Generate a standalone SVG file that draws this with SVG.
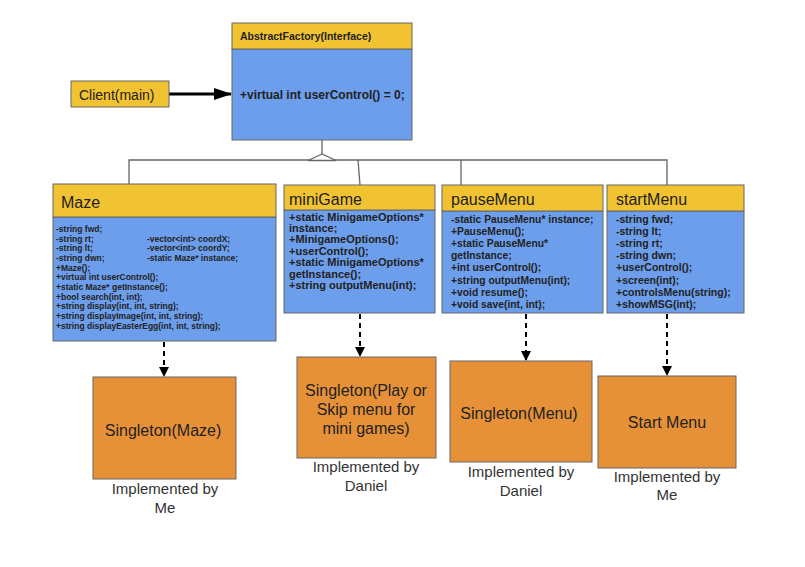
<svg xmlns="http://www.w3.org/2000/svg" width="805" height="567" viewBox="0 0 805 567">
<defs>
<style>
.hdr{fill:#f1c232;stroke:#666;stroke-width:1}
.body{fill:#6d9eeb;stroke:#666;stroke-width:1}
.org{fill:#e69138;stroke:#666;stroke-width:1}
.t{font-family:"Liberation Sans",Arial,sans-serif;fill:#222}
.b{font-weight:bold}
.inh{stroke:#666;stroke-width:1.3;fill:none}
.dash{stroke:#000;stroke-width:2;stroke-dasharray:5 4;fill:none}
.note{font-family:"Liberation Sans",Arial,sans-serif;fill:#333;font-size:15px;text-anchor:middle}
.sg{font-family:"Liberation Sans",Arial,sans-serif;fill:#222;font-size:16px;text-anchor:middle}
</style>
<marker id="ah" markerWidth="10" markerHeight="10" refX="9" refY="5" orient="auto" markerUnits="userSpaceOnUse">
<path d="M0,0 L10,5 L0,10 z" fill="#000"/>
</marker>
<marker id="ah2" markerWidth="18" markerHeight="14" refX="17" refY="7" orient="auto" markerUnits="userSpaceOnUse">
<path d="M0,1 L18,7 L0,13 z" fill="#000"/>
</marker>
</defs>
<rect width="805" height="567" fill="#fff"/>

<g id="connectors">
<line x1="169" y1="94" x2="231" y2="94" stroke="#000" stroke-width="3" marker-end="url(#ah2)"/>
<line class="inh" x1="322" y1="140" x2="322" y2="154"/>
<polyline class="inh" points="129,184 129,160 667,160 667,185"/>
<line class="inh" x1="358" y1="160" x2="360" y2="185"/>
<line class="inh" x1="461" y1="160" x2="461" y2="185"/>
<polygon points="322,154 308,160.5 336,160.5" fill="#fff" stroke="#666" stroke-width="1.3"/>
<line class="dash" x1="164" y1="342" x2="164" y2="376" marker-end="url(#ah)"/>
<line class="dash" x1="360" y1="314" x2="360" y2="356" marker-end="url(#ah)"/>
<line class="dash" x1="526" y1="314" x2="526" y2="360" marker-end="url(#ah)"/>
<line class="dash" x1="667" y1="314" x2="667" y2="375" marker-end="url(#ah)"/>
</g>

<g id="client">
<rect class="hdr" x="71" y="81" width="98" height="26"/>
<text class="t" x="79" y="99.5" font-size="14">Client(main)</text>
</g>

<g id="abstractFactory">
<rect class="body" x="232" y="49" width="180" height="91"/>
<rect class="hdr" x="232" y="23" width="180" height="26"/>
<text class="t b" x="240" y="40" font-size="10.5">AbstractFactory(Interface)</text>
<text class="t b" x="240" y="99" font-size="12">+virtual int userControl() = 0;</text>
</g>

<g id="maze">
<rect class="body" x="53" y="217" width="223" height="124"/>
<rect class="hdr" x="53" y="184" width="223" height="33"/>
<text class="t" x="61" y="208" font-size="16">Maze</text>
<g class="t b" font-size="8.5">
<text x="56" y="232">-string fwd;</text>
<text x="56" y="241.7">-string rt;</text>
<text x="56" y="251.3">-string lt;</text>
<text x="56" y="261">-string dwn;</text>
<text x="147" y="241.7">-vector&lt;int&gt; coordX;</text>
<text x="147" y="251.3">-vector&lt;int&gt; coordY;</text>
<text x="147" y="261">-static Maze* instance;</text>
<text x="56" y="270.6">+Maze();</text>
<text x="56" y="280.3">+virtual int userControl();</text>
<text x="56" y="290">+static Maze* getInstance();</text>
<text x="56" y="299.6">+bool search(int, int);</text>
<text x="56" y="309.3">+string display(int, int, string);</text>
<text x="56" y="318.9">+string displayImage(int, int, string);</text>
<text x="56" y="328.6">+string displayEasterEgg(int, int, string);</text>
</g>
</g>

<g id="miniGame">
<rect class="body" x="284" y="210" width="151" height="103"/>
<rect class="hdr" x="284" y="185" width="151" height="25"/>
<text class="t" x="289" y="204.5" font-size="16">miniGame</text>
<g class="t b" font-size="11">
<text x="289" y="220.5">+static MinigameOptions*</text>
<text x="289" y="231.9">instance;</text>
<text x="289" y="243.3">+MinigameOptions();</text>
<text x="289" y="254.7">+userControl();</text>
<text x="289" y="266.1">+static MinigameOptions*</text>
<text x="289" y="277.5">getInstance();</text>
<text x="289" y="288.9">+string outputMenu(int);</text>
</g>
</g>

<g id="pauseMenu">
<rect class="body" x="442" y="211" width="161" height="102"/>
<rect class="hdr" x="442" y="185" width="161" height="26"/>
<text class="t" x="451" y="205" font-size="16">pauseMenu</text>
<g class="t b" font-size="10.3">
<text x="451" y="223">-static PauseMenu* instance;</text>
<text x="451" y="235.1">+PauseMenu();</text>
<text x="451" y="247.2">+static PauseMenu*</text>
<text x="451" y="259.3">getInstance;</text>
<text x="451" y="271.4">+int userControl();</text>
<text x="451" y="283.5">+string outputMenu(int);</text>
<text x="451" y="295.6">+void resume();</text>
<text x="451" y="307.7">+void save(int, int);</text>
</g>
</g>

<g id="startMenu">
<rect class="body" x="607" y="211" width="137" height="102"/>
<rect class="hdr" x="607" y="185" width="137" height="26"/>
<text class="t" x="616" y="205" font-size="16">startMenu</text>
<g class="t b" font-size="10.5">
<text x="616" y="223">-string fwd;</text>
<text x="616" y="235.1">-string lt;</text>
<text x="616" y="247.2">-string rt;</text>
<text x="616" y="259.3">-string dwn;</text>
<text x="616" y="271.4">+userControl();</text>
<text x="616" y="283.5">+screen(int);</text>
<text x="616" y="295.6">+controlsMenu(string);</text>
<text x="616" y="307.7">+showMSG(int);</text>
</g>
</g>

<g id="singletonMaze">
<rect class="org" x="93" y="377" width="143" height="102"/>
<text class="sg" x="163" y="436">Singleton(Maze)</text>
<text class="note" x="165" y="494">Implemented by</text>
<text class="note" x="165" y="513">Me</text>
</g>

<g id="singletonMini">
<rect class="org" x="297" y="357" width="139" height="101"/>
<text class="sg" x="366" y="396">Singleton(Play or</text>
<text class="sg" x="366" y="414.8">Skip menu for</text>
<text class="sg" x="366" y="433.5">mini games)</text>
<text class="note" x="366" y="471.5">Implemented by</text>
<text class="note" x="366" y="490.5">Daniel</text>
</g>

<g id="singletonMenu">
<rect class="org" x="450" y="361" width="142" height="101"/>
<text class="sg" x="519" y="419">Singleton(Menu)</text>
<text class="note" x="521" y="477">Implemented by</text>
<text class="note" x="521" y="495.5">Daniel</text>
</g>

<g id="startMenuBox">
<rect class="org" x="598" y="376" width="138" height="92"/>
<text class="sg" x="667" y="428" font-size="15">Start Menu</text>
<text class="note" x="667" y="481.5">Implemented by</text>
<text class="note" x="667" y="500">Me</text>
</g>
</svg>
